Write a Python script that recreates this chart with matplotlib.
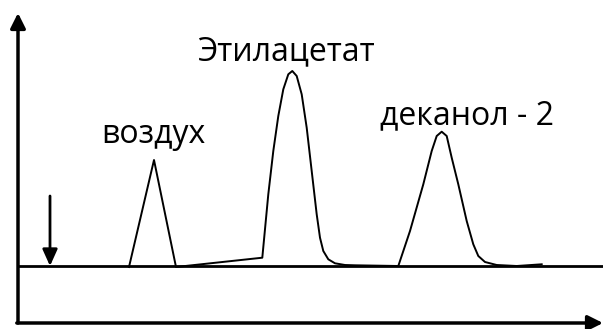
import matplotlib.pyplot as plt

plt.rcParams['font.family'] = ['Open Sans', 'DejaVu Sans']

# chromatogram trace (time, signal)
trace_t = [111, 136, 158,
           244.3, 250.3, 255.3, 260.3, 265.3, 270.3, 274.3, 278.7, 283.7, 288.7,
           293.7, 298.7, 302, 305.3, 310.3, 317, 327, 337,
           380.3, 392, 405.3, 413.7, 418.7, 423.7, 428.7, 433.7, 440.3, 448.7,
           455.3, 460.3, 467, 478.7, 498.7, 523.7]
trace_s = [56, 163, 56,
           65.3, 128.7, 172, 207, 233.7, 248.7, 252, 247, 228.7, 195.3,
           152, 108.7, 85.3, 72, 63.7, 59.7, 58, 57.7,
           57, 92, 138.7, 172, 187, 191.3, 187, 165.3, 138.7, 102,
           78.7, 67, 61, 58, 57, 58.7]

baseline_s = 57
inject_t = 32

labels = ["воздух", "Этилацетат", "деканол - 2"]
label_t = [135, 268, 449]
label_s = [180, 263, 199]

fig = plt.figure(figsize=(6.03, 3.29), dpi=100)
ax = fig.add_axes([0, 0, 1, 1])
ax.set_xlim(-18, 585)
ax.set_ylim(-6, 323)
ax.axis('off')

# axes arrows
head = "-|>,head_length=0.9,head_width=0.45"
ax.annotate("", xy=(0, 310), xytext=(0, 0),
            arrowprops=dict(arrowstyle=head, lw=2.5, color="black",
                            shrinkA=0, shrinkB=0))
ax.annotate("", xy=(585, 0), xytext=(-1.2, 0),
            arrowprops=dict(arrowstyle=head, lw=2.5, color="black",
                            shrinkA=0, shrinkB=0))

# baseline and injection marker
ax.plot([0, 585], [baseline_s, baseline_s], color="black", lw=2)
ax.annotate("", xy=(inject_t, baseline_s), xytext=(inject_t, 127),
            arrowprops=dict(arrowstyle="-|>,head_length=1.0,head_width=0.45",
                            lw=2, color="black", shrinkA=0, shrinkB=0))

ax.plot(trace_t, trace_s, color="black", lw=1.4)

for name, t, s in zip(labels, label_t, label_s):
    ax.text(t, s, name, fontsize=23, ha="center", va="baseline")

fig.savefig("out.png", dpi=100)
